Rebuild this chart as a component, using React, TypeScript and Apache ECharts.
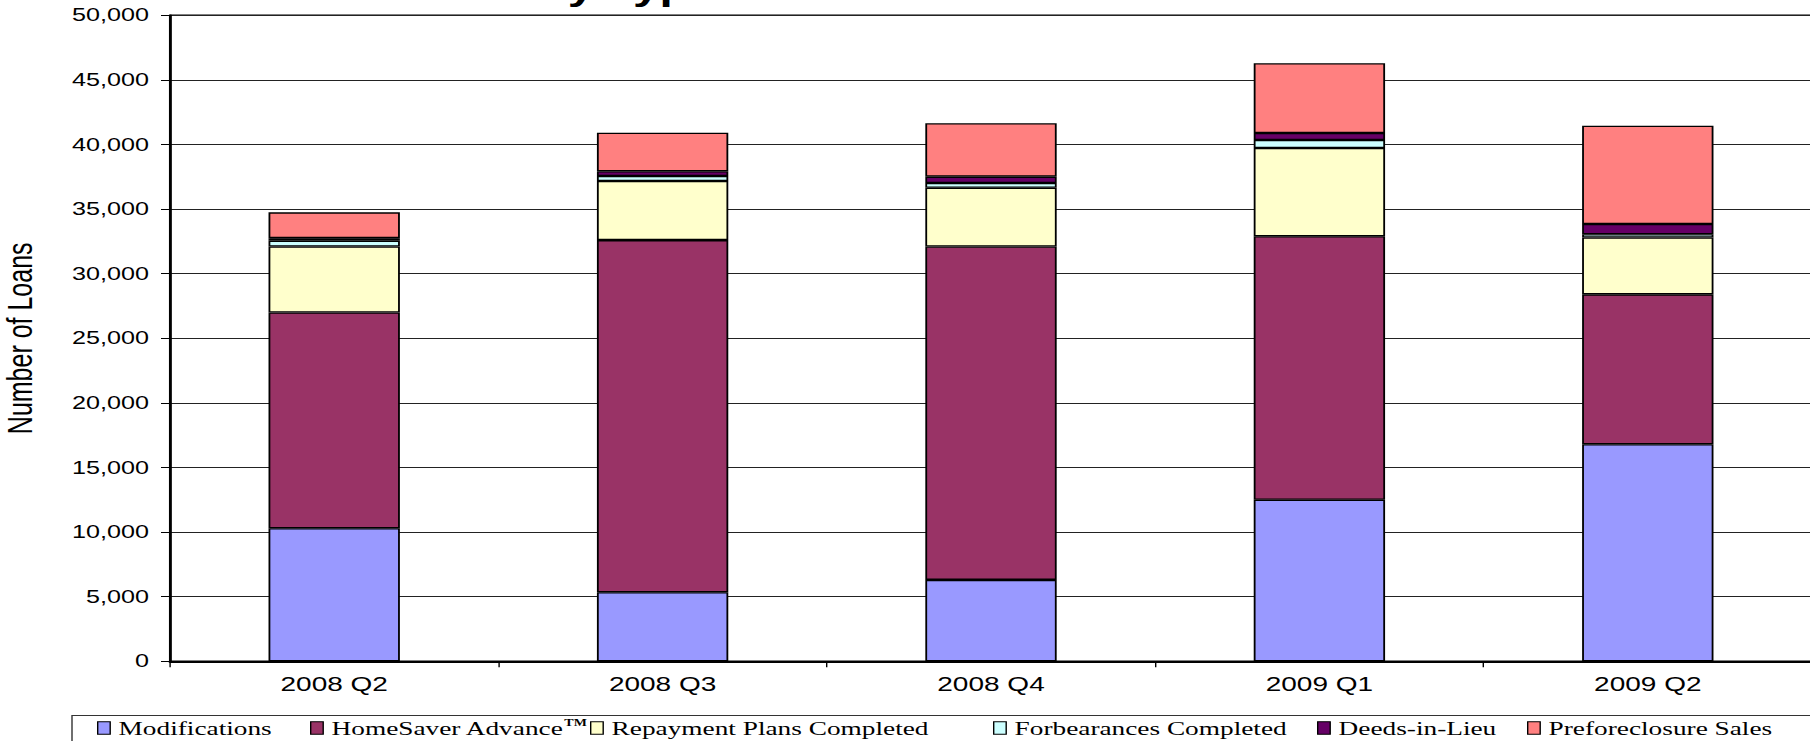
import React, { useEffect, useRef } from 'react';
import * as echarts from 'echarts';

const categories = ['2008 Q2', '2008 Q3', '2008 Q4', '2009 Q1', '2009 Q2'];
const seriesNames = [
  'Modifications',
  'HomeSaver Advance™',
  'Repayment Plans Completed',
  'Forbearances Completed',
  'Deeds-in-Lieu',
  'Preforeclosure Sales',
];
const modifications = [10300, 5350, 6300, 12500, 16800];
const homeSaverAdvance = [16700, 27250, 25800, 20400, 11600];
const repaymentPlans = [5100, 4570, 4550, 6830, 4400];
const forbearances = [450, 390, 370, 620, 250];
const deedsInLieu = [200, 370, 490, 540, 800];
const preforeclosureSales = [2000, 2980, 4130, 5400, 7600];
const seriesColors = ['#9999FF', '#993366', '#FFFFCC', '#CCFFFF', '#660066', '#FF8080'];
const yMin = 0;
const yMax = 50000;
const yStep = 5000;
const chartTitle = 'Loan Workouts by Type';
const yAxisTitle = 'Number of Loans';

// the reference picture is stretched horizontally; reproduce that with a CSS scaleX
const S = 1.4;
const W = 1810;
const H = 741;
const W0 = W / S;
const sx = (x: number) => x / S;

export default function App() {
  const ref = useRef<HTMLDivElement>(null);
  useEffect(() => {
    const chart = echarts.init(ref.current as HTMLDivElement, null, { renderer: 'svg' });
    const values = [modifications, homeSaverAdvance, repaymentPlans, forbearances, deedsInLieu, preforeclosureSales];
    const legendX = [97, 310, 590, 993, 1317, 1527];
    chart.setOption({
      animation: false,
      grid: {
        left: sx(170),
        top: 15.3,
        width: sx(1642),
        height: 646,
        show: true,
        borderColor: '#000',
        borderWidth: 1.5,
        backgroundColor: 'transparent',
        containLabel: false,
        outerBoundsMode: 'none',
      },
      xAxis: {
        type: 'category',
        data: categories,
        boundaryGap: true,
        axisLine: { show: true, lineStyle: { color: '#000', width: 2 } },
        axisTick: { show: true, length: 6, interval: 0, lineStyle: { color: '#000', width: 1 } },
        axisLabel: { show: true, interval: 0, margin: 13, color: '#000', fontSize: 20, fontFamily: 'Liberation Sans' },
        splitLine: { show: false },
      },
      yAxis: {
        type: 'value',
        min: yMin,
        max: yMax,
        interval: yStep,
        name: yAxisTitle,
        nameLocation: 'middle',
        nameGap: 95,
        nameTextStyle: { color: '#000', fontSize: 25, fontFamily: 'Liberation Sans' },
        axisLine: { show: true, lineStyle: { color: '#000', width: 1.5 } },
        axisTick: { show: true, length: sx(9), lineStyle: { color: '#000', width: 1 } },
        axisLabel: {
          margin: sx(21),
          color: '#000',
          fontSize: 18,
          fontFamily: 'Liberation Sans',
          formatter: (v: number) => v.toLocaleString('en-US'),
        },
        splitLine: { show: true, lineStyle: { color: '#222', width: 1 } },
      },
      legend: seriesNames.map((n, i) => ({
        data: [n],
        left: sx(legendX[i]),
        top: 718,
        padding: 0,
        itemGap: 0,
        itemWidth: sx(12.5),
        itemHeight: 12.5,
        icon: 'rect',
        selectedMode: false,
        itemStyle: { borderColor: '#000', borderWidth: 1 },
        formatter: (name: string) => name.replace('™', '{tm|TM}'),
        textStyle: {
          color: '#000',
          fontSize: 19.5,
          fontFamily: 'Liberation Serif',
          padding: [0, 0, 0, 1],
          rich: {
            tm: { fontSize: 10, fontWeight: 'bold', fontFamily: 'Liberation Serif', color: '#000', verticalAlign: 'top' },
          },
        },
      })),
      graphic: [
        {
          type: 'rect',
          silent: true,
          shape: { x: sx(72), y: 715.5, width: 2000, height: 100 },
          style: { fill: 'none', stroke: '#333', lineWidth: 1 },
        },
        {
          type: 'text',
          silent: true,
          x: sx(715),
          y: -12,
          style: {
            text: chartTitle,
            fill: '#000',
            fontSize: 34,
            fontWeight: 'bold',
            fontFamily: 'Liberation Sans',
            textAlign: 'right',
            verticalAlign: 'middle',
            textVerticalAlign: 'middle',
          },
        },
      ],
      series: seriesNames.map((n, i) => ({
        type: 'bar',
        name: n,
        stack: 'total',
        data: values[i],
        barWidth: '40%',
        itemStyle: { color: seriesColors[i], borderColor: '#000', borderWidth: 1.3 },
        emphasis: { disabled: true },
      })),
    });
    return () => chart.dispose();
  }, []);
  return (
    <div
      ref={ref}
      style={{
        position: 'absolute',
        left: 0,
        top: 0,
        width: W0,
        height: H,
        transform: `scaleX(${S})`,
        transformOrigin: '0 0',
      }}
    />
  );
}
